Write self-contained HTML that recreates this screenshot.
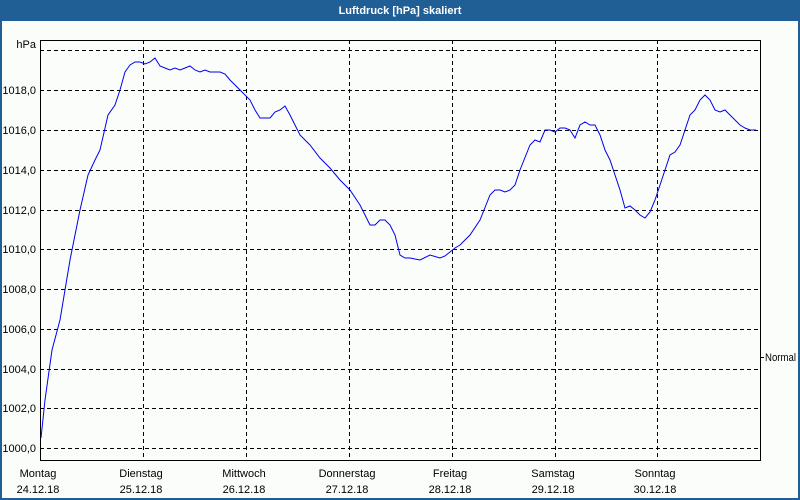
<!DOCTYPE html>
<html><head><meta charset="utf-8"><style>
body{margin:0;width:800px;height:500px;overflow:hidden;background:#1f5f96;font-family:"Liberation Sans",sans-serif}
</style></head><body>
<svg width="800" height="500" xmlns="http://www.w3.org/2000/svg" style="display:block">
<rect x="0" y="0" width="800" height="500" fill="#1f5f96"/>
<text x="400" y="14" fill="#fff" font-size="11" font-weight="bold" text-anchor="middle">Luftdruck [hPa] skaliert</text>
<rect x="2" y="21" width="796" height="477" fill="#fbfdfb"/>
<g stroke="#000" stroke-width="1" stroke-dasharray="4,3">
<line x1="40" y1="50.5" x2="760" y2="50.5"/>
<line x1="40" y1="90.5" x2="760" y2="90.5"/>
<line x1="40" y1="130.5" x2="760" y2="130.5"/>
<line x1="40" y1="170.5" x2="760" y2="170.5"/>
<line x1="40" y1="210.5" x2="760" y2="210.5"/>
<line x1="40" y1="249.5" x2="760" y2="249.5"/>
<line x1="40" y1="289.5" x2="760" y2="289.5"/>
<line x1="40" y1="329.5" x2="760" y2="329.5"/>
<line x1="40" y1="369.5" x2="760" y2="369.5"/>
<line x1="40" y1="408.5" x2="760" y2="408.5"/>
<line x1="40" y1="448.5" x2="760" y2="448.5"/>
<line x1="143.5" y1="40" x2="143.5" y2="460"/>
<line x1="246.5" y1="40" x2="246.5" y2="460"/>
<line x1="349.5" y1="40" x2="349.5" y2="460"/>
<line x1="452.5" y1="40" x2="452.5" y2="460"/>
<line x1="555.5" y1="40" x2="555.5" y2="460"/>
<line x1="657.5" y1="40" x2="657.5" y2="460"/>
</g>
<rect x="40.5" y="40.5" width="720" height="420" fill="none" stroke="#000"/>
<line x1="761" y1="357.5" x2="764" y2="357.5" stroke="#000"/>
<g font-size="11" fill="#000">
<text x="36" y="48" text-anchor="end">hPa</text>
<text x="36" y="94" text-anchor="end">1018,0</text>
<text x="36" y="134" text-anchor="end">1016,0</text>
<text x="36" y="174" text-anchor="end">1014,0</text>
<text x="36" y="214" text-anchor="end">1012,0</text>
<text x="36" y="253" text-anchor="end">1010,0</text>
<text x="36" y="293" text-anchor="end">1008,0</text>
<text x="36" y="333" text-anchor="end">1006,0</text>
<text x="36" y="373" text-anchor="end">1004,0</text>
<text x="36" y="412" text-anchor="end">1002,0</text>
<text x="36" y="452" text-anchor="end">1000,0</text>
<text x="765" y="361" textLength="31" lengthAdjust="spacingAndGlyphs">Normal</text>
</g>
<g font-size="11" fill="#000" text-anchor="middle">
<text x="38" y="477">Montag</text><text x="38" y="493">24.12.18</text>
<text x="141" y="477">Dienstag</text><text x="141" y="493">25.12.18</text>
<text x="244" y="477">Mittwoch</text><text x="244" y="493">26.12.18</text>
<text x="347" y="477">Donnerstag</text><text x="347" y="493">27.12.18</text>
<text x="450" y="477">Freitag</text><text x="450" y="493">28.12.18</text>
<text x="553" y="477">Samstag</text><text x="553" y="493">29.12.18</text>
<text x="655" y="477">Sonntag</text><text x="655" y="493">30.12.18</text>
</g>
<polyline fill="none" stroke="#0000ee" stroke-width="1" points="41,438 45,400 52,350 60,320 70,260 80,210 88,175 95,160 100,150 108,115 115,105 120,90 125,72 130,65 135,62 140,62 145,64 150,62 155,58 160,66 165,68 170,70 175,68 180,70 185,68 190,66 195,70 200,72 205,70 210,72 215,72 220,72 225,74 230,80 240,90 250,100 255,110 260,118 265,118 270,118 275,112 280,110 285,106 290,115 295,125 300,135 310,145 320,158 330,168 340,180 350,190 360,205 365,215 370,225 375,225 380,220 385,220 390,225 395,235 400,255 405,258 410,258 420,260 430,255 440,258 445,256 450,252 455,248 460,245 470,235 480,220 490,195 495,190 500,190 505,192 510,190 515,185 520,170 530,145 535,140 540,142 545,130 550,130 555,132 560,128 565,128 570,130 575,138 580,125 585,122 590,125 595,125 600,135 605,150 610,160 615,175 620,190 625,208 630,206 635,210 640,215 645,218 650,212 655,200 660,185 665,170 670,155 675,152 680,145 685,130 690,115 695,110 700,100 705,95 710,100 715,110 720,112 725,110 730,115 740,125 745,128 750,130 756,130"/>
</svg>
</body></html>
